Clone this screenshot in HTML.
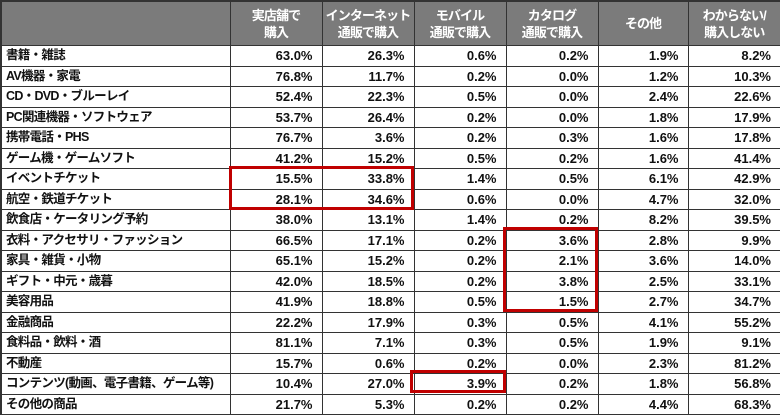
<!DOCTYPE html>
<html><head><meta charset="utf-8"><style>
html,body{margin:0;padding:0;background:#fff;width:780px;height:415px;overflow:hidden}
body{position:relative;font-family:"Liberation Sans","Noto Sans CJK JP",sans-serif;font-weight:bold;color:#111}
table{position:absolute;left:0;top:0;border-collapse:collapse;table-layout:fixed;width:780px}
td,th{border:1px solid #333;padding:0 5px;font-size:13px;white-space:nowrap;overflow:hidden}
th{background:#7b7b7b;color:#fff;height:43px;text-align:center;line-height:17px;font-size:13px;padding:0 2px;letter-spacing:-0.9px}
td{height:19.5px;line-height:19px;text-align:right;padding-right:9px}
td:first-child{text-align:left;padding-left:4px;font-size:12.5px;letter-spacing:-0.7px}
table{border:2px solid #333}
.r{position:absolute;border:3px solid #c00000;box-sizing:border-box}
</style></head><body>
<table>
<colgroup><col style="width:229px"><col style="width:92px"><col style="width:92px"><col style="width:92px"><col style="width:92px"><col style="width:90px"><col style="width:93px"></colgroup>
<tr><th></th><th>実店舗で<br>購入</th><th>インターネット<br>通販で購入</th><th>モバイル<br>通販で購入</th><th>カタログ<br>通販で購入</th><th>その他</th><th>わからない/<br>購入しない</th></tr>
<tr><td>書籍・雑誌</td><td>63.0%</td><td>26.3%</td><td>0.6%</td><td>0.2%</td><td>1.9%</td><td>8.2%</td></tr>
<tr><td>AV機器・家電</td><td>76.8%</td><td>11.7%</td><td>0.2%</td><td>0.0%</td><td>1.2%</td><td>10.3%</td></tr>
<tr><td>CD・DVD・ブルーレイ</td><td>52.4%</td><td>22.3%</td><td>0.5%</td><td>0.0%</td><td>2.4%</td><td>22.6%</td></tr>
<tr><td>PC関連機器・ソフトウェア</td><td>53.7%</td><td>26.4%</td><td>0.2%</td><td>0.0%</td><td>1.8%</td><td>17.9%</td></tr>
<tr><td>携帯電話・PHS</td><td>76.7%</td><td>3.6%</td><td>0.2%</td><td>0.3%</td><td>1.6%</td><td>17.8%</td></tr>
<tr><td>ゲーム機・ゲームソフト</td><td>41.2%</td><td>15.2%</td><td>0.5%</td><td>0.2%</td><td>1.6%</td><td>41.4%</td></tr>
<tr><td>イベントチケット</td><td>15.5%</td><td>33.8%</td><td>1.4%</td><td>0.5%</td><td>6.1%</td><td>42.9%</td></tr>
<tr><td>航空・鉄道チケット</td><td>28.1%</td><td>34.6%</td><td>0.6%</td><td>0.0%</td><td>4.7%</td><td>32.0%</td></tr>
<tr><td>飲食店・ケータリング予約</td><td>38.0%</td><td>13.1%</td><td>1.4%</td><td>0.2%</td><td>8.2%</td><td>39.5%</td></tr>
<tr><td>衣料・アクセサリ・ファッション</td><td>66.5%</td><td>17.1%</td><td>0.2%</td><td>3.6%</td><td>2.8%</td><td>9.9%</td></tr>
<tr><td>家具・雑貨・小物</td><td>65.1%</td><td>15.2%</td><td>0.2%</td><td>2.1%</td><td>3.6%</td><td>14.0%</td></tr>
<tr><td>ギフト・中元・歳暮</td><td>42.0%</td><td>18.5%</td><td>0.2%</td><td>3.8%</td><td>2.5%</td><td>33.1%</td></tr>
<tr><td>美容用品</td><td>41.9%</td><td>18.8%</td><td>0.5%</td><td>1.5%</td><td>2.7%</td><td>34.7%</td></tr>
<tr><td>金融商品</td><td>22.2%</td><td>17.9%</td><td>0.3%</td><td>0.5%</td><td>4.1%</td><td>55.2%</td></tr>
<tr><td>食料品・飲料・酒</td><td>81.1%</td><td>7.1%</td><td>0.3%</td><td>0.5%</td><td>1.9%</td><td>9.1%</td></tr>
<tr><td>不動産</td><td>15.7%</td><td>0.6%</td><td>0.2%</td><td>0.0%</td><td>2.3%</td><td>81.2%</td></tr>
<tr><td>コンテンツ(動画、電子書籍、ゲーム等)</td><td>10.4%</td><td>27.0%</td><td>3.9%</td><td>0.2%</td><td>1.8%</td><td>56.8%</td></tr>
<tr><td>その他の商品</td><td>21.7%</td><td>5.3%</td><td>0.2%</td><td>0.2%</td><td>4.4%</td><td>68.3%</td></tr>
</table>
<div class="r" style="left:229px;top:166px;width:185px;height:44px"></div>
<div class="r" style="left:503px;top:227px;width:95px;height:85px"></div>
<div class="r" style="left:410px;top:370px;width:96px;height:23px"></div>
</body></html>
